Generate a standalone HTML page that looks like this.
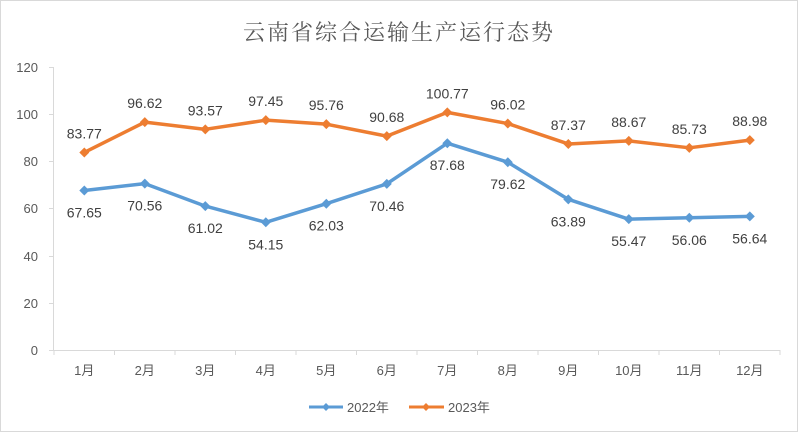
<!DOCTYPE html>
<html><head><meta charset="utf-8"><style>
body{margin:0;background:#fff;}
svg{display:block;font-family:"Liberation Sans","Noto Sans CJK SC",sans-serif;}
</style></head><body>
<svg width="798" height="433" viewBox="0 0 798 433">
<rect x="0.5" y="0.5" width="797" height="431" fill="#fff" stroke="#d9d9d9"/>
<text x="399" y="40" text-anchor="middle" font-family="'Noto Serif CJK SC',serif" font-size="22" fill="#595959" letter-spacing="2">云南省综合运输生产运行态势</text>
<g font-size="13" fill="#595959" text-anchor="end">
<text x="38" y="355">0</text><text x="38" y="308">20</text><text x="38" y="261">40</text><text x="38" y="213">60</text><text x="38" y="166">80</text><text x="38" y="119">100</text><text x="38" y="72">120</text>
</g>
<g stroke="#d9d9d9" stroke-width="1">
<line x1="53.5" y1="67" x2="53.5" y2="350"/>
<line x1="49" y1="67.5" x2="53" y2="67.5"/><line x1="49" y1="114.5" x2="53" y2="114.5"/><line x1="49" y1="161.5" x2="53" y2="161.5"/><line x1="49" y1="208.5" x2="53" y2="208.5"/><line x1="49" y1="256.5" x2="53" y2="256.5"/><line x1="49" y1="303.5" x2="53" y2="303.5"/>
<line x1="49" y1="350.5" x2="780" y2="350.5"/>
</g>
<g id="ticks" stroke="#d9d9d9"></g>
<g id="cats" font-size="13" fill="#595959" text-anchor="middle"></g>
<g id="series"></g>
<g font-size="13" fill="#595959">
<line x1="309" y1="407" x2="343" y2="407" stroke="#5b9bd5" stroke-width="3"/><path d="M326 403l4 4-4 4-4-4z" fill="#5b9bd5"/>
<text x="347" y="412">2022年</text>
<line x1="409" y1="407" x2="444" y2="407" stroke="#ed7d31" stroke-width="3"/><path d="M426 403l4 4-4 4-4-4z" fill="#ed7d31"/>
<text x="448" y="412">2023年</text>
</g>
</svg>
<script>
const a=[67.65,70.56,61.02,54.15,62.03,70.46,87.68,79.62,63.89,55.47,56.06,56.64];
const b=[83.77,96.62,93.57,97.45,95.76,90.68,100.77,96.02,87.37,88.67,85.73,88.98];
const X=i=>84.3+i*60.5,Y=v=>350-v*283/120;
const ns="http://www.w3.org/2000/svg";
function el(p,t,at,txt){const e=document.createElementNS(ns,t);for(const k in at)e.setAttribute(k,at[k]);if(txt)e.textContent=txt;document.getElementById(p).appendChild(e);}
for(let i=0;i<=12;i++)el("ticks","line",{x1:54+i*60.5,x2:54+i*60.5,y1:350,y2:355});
for(let i=0;i<12;i++)el("cats","text",{x:X(i),y:375},(i+1)+"月");
function s(d,c,dy){el("series","polyline",{points:d.map((v,i)=>X(i)+","+Y(v)).join(" "),fill:"none",stroke:c,"stroke-width":3.5,"stroke-linejoin":"round"});
d.forEach((v,i)=>{const x=X(i),y=Y(v);el("series","path",{d:`M${x} ${y-5}l5 5-5 5-5-5z`,fill:c});
el("series","text",{x:x,y:y+dy,"text-anchor":"middle","font-size":"14",fill:"#404040"},v.toFixed(2));});}
s(a,"#5b9bd5",27);s(b,"#ed7d31",-14);
</script>
</body></html>
